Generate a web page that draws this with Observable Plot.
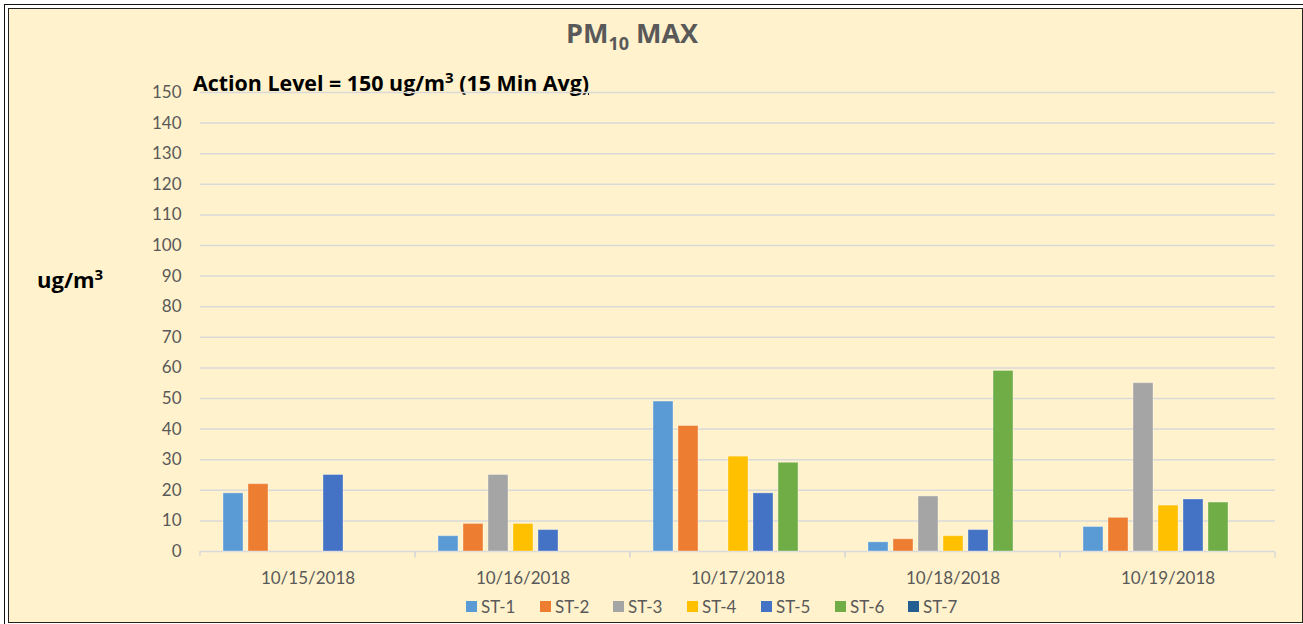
<!DOCTYPE html>
<html>
<head>
<meta charset="utf-8">
<script src="https://cdn.jsdelivr.net/npm/d3@7"></script>
<script src="https://cdn.jsdelivr.net/npm/@observablehq/plot@0.6"></script>
<style>
  html, body { margin: 0; padding: 0; background: #fff; width: 1303px; height: 624px; overflow: hidden; }
  body { position: relative; font-family: Lato, "Open Sans", sans-serif; }
  .outer { position: absolute; left: 4px; top: 4px; width: 1320px; height: 640px; border: 1.5px solid #111; box-sizing: border-box; }
  .inner { position: absolute; left: 8px; top: 8px; width: 1295px; height: 615px; border: 1.5px solid #222; box-sizing: border-box; background: #FFF2CC; }
  #title { position: absolute; left: 566px; top: 17px; font-family: "Open Sans", sans-serif; font-size: 27px; font-weight: bold; color: #595959; white-space: nowrap; line-height: 1.2; }
  #title sub { font-size: 18px; vertical-align: -7px; }
  #action { position: absolute; left: 193px; top: 68px; font-family: "Open Sans", sans-serif; font-size: 21.4px; font-weight: bold; color: #000; white-space: nowrap; line-height: 1.2; }
  #action sup, #ylab sup { font-size: 15px; vertical-align: 8px; }
  #ylab { position: absolute; left: 37px; top: 265px; font-family: "Open Sans", sans-serif; font-size: 22px; font-weight: bold; color: #000; white-space: nowrap; line-height: 1.2; }
  #chart { position: absolute; left: 0; top: 60px; }
  #legend { position: absolute; top: 596px; left: 0; font-size: 17px; color: #595959; }
  .item { position: absolute; display: flex; align-items: center; white-space: nowrap; }
  .sw { width: 11px; height: 11px; margin-right: 4px; }
</style>
</head>
<body>
<div class="outer"></div>
<div class="inner"></div>
<div id="title">PM<sub>10</sub> MAX</div>
<div id="action">Action Level = 150 ug/m<sup>3</sup> (15 Min Avg<u>)</u></div>
<div id="ylab">ug/m<sup>3</sup></div>
<div id="chart"></div>
<div id="legend"></div>
<script>
const dates = ["10/15/2018", "10/16/2018", "10/17/2018", "10/18/2018", "10/19/2018"];
const stations = ["ST-1", "ST-2", "ST-3", "ST-4", "ST-5", "ST-6", "ST-7"];
const colors = ["#5B9BD5", "#ED7D31", "#A5A5A5", "#FFC000", "#4472C4", "#70AD47", "#255E91"];
const st1 = [19, 5, 49, 3, 8];
const st2 = [22, 9, 41, 4, 11];
const st3 = [null, 25, null, 18, 55];
const st4 = [null, 9, 31, 5, 15];
const st5 = [25, 7, 19, 7, 17];
const st6 = [null, null, 29, 59, 16];
const st7 = [null, null, null, null, null];
const yTicks = [0, 10, 20, 30, 40, 50, 60, 70, 80, 90, 100, 110, 120, 130, 140, 150];

const series = [st1, st2, st3, st4, st5, st6, st7];
const rows = [];
series.forEach((vals, si) => vals.forEach((v, di) => {
  if (v != null) rows.push({date: dates[di], station: stations[si], value: v});
}));

const W = 1303, H = 540, ML = 198, MR = 26, MT = 32, MB = 49;
const facetW = (W - ML - MR) / dates.length;
const tickPx = 6;

const chart = Plot.plot({
  width: W, height: H,
  marginLeft: ML, marginRight: MR, marginTop: MT, marginBottom: MB,
  style: {background: "transparent", fontFamily: "Lato, 'Open Sans', sans-serif", fontSize: "17px", color: "#595959"},
  fx: {domain: dates, padding: 0, label: null, tickSize: 0, tickPadding: 20},
  x: {domain: stations, paddingInner: 0.22, paddingOuter: 0.84, axis: null},
  y: {domain: [0, 150], ticks: yTicks, label: null, tickSize: 0, tickPadding: 19},
  color: {domain: stations, range: colors},
  marks: [
    Plot.ruleY(yTicks, {stroke: "#D9D9D9", strokeWidth: 1.5, strokeOpacity: 1}),
    Plot.rect([0], {y1: 0, y2: -2, fill: "none", stroke: "#D9D9D9", strokeWidth: 1.5,
      strokeDasharray: `0 ${facetW} ${tickPx} ${facetW} ${tickPx}`}),
    Plot.barY(rows, {fx: "date", x: "station", y: "value", fill: "station", stroke: "#fff", strokeOpacity: 0.35, strokeWidth: 1})
  ]
});
document.getElementById("chart").appendChild(chart);

const legend = document.getElementById("legend");
const legendX = [466, 540, 613, 687, 761, 835, 908];
stations.forEach((s, i) => {
  const it = document.createElement("div");
  it.className = "item";
  it.style.left = legendX[i] + "px";
  it.innerHTML = `<span class="sw" style="background:${colors[i]}"></span><span>${s}</span>`;
  legend.appendChild(it);
});
</script>
</body>
</html>
